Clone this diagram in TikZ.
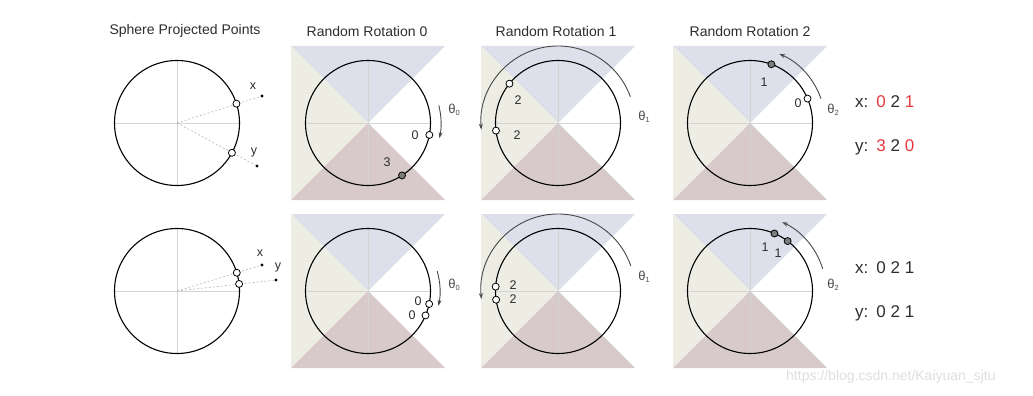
\documentclass[tikz,border=0pt]{standalone}
\usepackage{fontspec}
\setmainfont{Liberation Sans}
\usetikzlibrary{arrows.meta}
\definecolor{qtop}{RGB}{221,224,235}
\definecolor{qleft}{RGB}{237,237,228}
\definecolor{qbot}{RGB}{216,202,202}
\definecolor{txt}{RGB}{45,45,45}
\definecolor{hred}{RGB}{232,56,60}
\definecolor{ptgray}{RGB}{125,125,125}
\tikzset{
 ring/.style={draw=black, line width=1.1pt},
 cross/.style={draw=black!17, line width=0.6pt},
 hollowpt/.style={circle, draw=black, fill=white, line width=0.8pt, inner sep=0pt, minimum size=7pt},
 greypt/.style={circle, draw=black, fill=ptgray, line width=0.8pt, inner sep=0pt, minimum size=7pt},
 projdot/.style={circle, fill=black, inner sep=0pt, minimum size=3.2pt},
 projline/.style={draw=black!25, dash pattern=on 2pt off 2pt, line width=0.7pt},
 rotarrow/.style={draw=black!72, line width=0.9pt, -{Stealth[length=6pt,width=4pt]}},
 title/.style={font=\fontsize{14}{16}\selectfont, text=txt, inner sep=0pt},
 lbl/.style={font=\fontsize{12.5}{14}\selectfont, text=txt, inner sep=0pt},
 big/.style={font=\fontsize{17}{20}\selectfont, text=txt, inner sep=0pt, anchor=west},
 theta/.style={font=\fontsize{13}{15}\selectfont, text=txt!85, inner sep=0pt},
}
\newcommand{\qpanel}{%
 \fill[qtop] (-77,77) -- (77,77) -- (0,0) -- cycle;
 \fill[qleft] (-77,77) -- (-77,-77) -- (0,0) -- cycle;
 \fill[qbot] (-77,-77) -- (77,-77) -- (0,0) -- cycle;}
\newcommand{\qring}{%
 \draw[cross] (-62.5,0) -- (62.5,0);
 \draw[cross] (0,-62.5) -- (0,62.5);
 \draw[ring] (0,0) circle[radius=62.5];}
\newcommand{\thsub}[1]{θ\raisebox{-2.5pt}{\fontsize{7.5}{7.5}\selectfont #1}}
\begin{document}
\begin{tikzpicture}[x=1pt,y=1pt]
\useasboundingbox (0,0) rectangle (1033,-396);
% titles
\node[title] (t0) at (185,-31) {Sphere Projected Points};
\node[title] (t1) at (367,-31) {Random Rotation 0};
\node[title] (t2) at (556,-31) {Random Rotation 1};
\node[title] (t3) at (750,-31) {Random Rotation 2};

% ===== Row 1 =====
\begin{scope}[shift={(177,-123)}]
 \qring
 \node[projdot] (a1xd) at (85,27) {};
 \node[projdot] (a1yd) at (80,-43) {};
 \coordinate (a1c) at (0,0);
 \draw[projline] (a1c) -- (a1xd);
 \draw[projline] (a1c) -- (a1yd);
 \node[hollowpt] (a1x) at (18:62.5) {};
 \node[hollowpt] (a1y) at (-28.5:62.5) {};
 \node[lbl] (a1xl) at (76,37) {x};
 \node[lbl] (a1yl) at (77,-29) {y};
\end{scope}
\begin{scope}[shift={(368,-123)}]
 \qpanel \qring
 \node[hollowpt] (b1p) at (-11:62.5) {};
 \node[greypt] (b1q) at (-57:62.5) {};
 \node[lbl] (b1pl) at (47,-12) {0};
 \node[lbl] (b1ql) at (19,-39) {3};
 \draw[rotarrow] (14:73) arc[start angle=14, end angle=-12, radius=73];
 \node[theta] (b1th) at (86,13) {\thsub{0}};
\end{scope}
\begin{scope}[shift={(558,-123)}]
 \qpanel \qring
 \node[hollowpt] (c1p) at (141:62.5) {};
 \node[hollowpt] (c1q) at (187:62.5) {};
 \node[lbl] (c1pl) at (-40,23) {2};
 \node[lbl] (c1ql) at (-41,-12) {2};
 \draw[rotarrow] (20:77) arc[start angle=20, end angle=185, radius=77];
 \node[theta] (c1th) at (86,6) {\thsub{1}};
\end{scope}
\begin{scope}[shift={(750,-123)}]
 \qpanel \qring
 \node[hollowpt] (d1p) at (23:62.5) {};
 \node[greypt] (d1q) at (70:62.5) {};
 \node[lbl] (d1pl) at (48,20) {0};
 \node[lbl] (d1ql) at (14,41) {1};
 \draw[rotarrow] (19:75) arc[start angle=19, end angle=67, radius=75];
 \node[theta] (d1th) at (83,13) {\thsub{2}};
\end{scope}
\node[big] (r1x) at (855,-102) {x:\hspace{8pt}\textcolor{hred}{0} 2 \textcolor{hred}{1}};
\node[big] (r1y) at (855,-147) {y:\hspace{8pt}\textcolor{hred}{3} 2 \textcolor{hred}{0}};

% ===== Row 2 =====
\begin{scope}[shift={(177,-291)}]
 \qring
 \node[projdot] (a2xd) at (85,26) {};
 \node[projdot] (a2yd) at (99,11) {};
 \coordinate (a2c) at (0,0);
 \draw[projline] (a2c) -- (a2xd);
 \draw[projline] (a2c) -- (a2yd);
 \node[hollowpt] (a2x) at (17:62.5) {};
 \node[hollowpt] (a2y) at (6.5:62.5) {};
 \node[lbl] (a2xl) at (83,38) {x};
 \node[lbl] (a2yl) at (101,24) {y};
\end{scope}
\begin{scope}[shift={(368,-291)}]
 \qpanel \qring
 \node[hollowpt] (b2p) at (-12:62.5) {};
 \node[hollowpt] (b2q) at (-23:62.5) {};
 \node[lbl] (b2pl) at (50,-10) {0};
 \node[lbl] (b2ql) at (44,-24) {0};
 \draw[rotarrow] (16:72) arc[start angle=16, end angle=-12, radius=72];
 \node[theta] (b2th) at (86,6) {\thsub{0}};
\end{scope}
\begin{scope}[shift={(558,-291)}]
 \qpanel \qring
 \node[hollowpt] (c2p) at (176:62.5) {};
 \node[hollowpt] (c2q) at (188:62.5) {};
 \node[lbl] (c2pl) at (-45,6) {2};
 \node[lbl] (c2ql) at (-45,-8) {2};
 \draw[rotarrow] (19:77) arc[start angle=19, end angle=186, radius=77];
 \node[theta] (c2th) at (86,14) {\thsub{1}};
\end{scope}
\begin{scope}[shift={(750,-291)}]
 \qpanel \qring
 \node[greypt] (d2p) at (67:62.5) {};
 \node[greypt] (d2q) at (53:62.5) {};
 \node[lbl] (d2pl) at (15,44) {1};
 \node[lbl] (d2ql) at (28,38) {1};
 \draw[rotarrow] (17:76) arc[start angle=17, end angle=65, radius=76];
 \node[theta] (d2th) at (83,6) {\thsub{2}};
\end{scope}
\node[big] (r2x) at (855,-268) {x:\hspace{8pt}0 2 1};
\node[big] (r2y) at (855,-313) {y:\hspace{8pt}0 2 1};

% watermark
\node[font=\fontsize{14}{16}\selectfont, text=black!13, anchor=west, inner sep=0pt] (wm) at (786,-377) {https://blog.csdn.net/Kaiyuan\_sjtu};
\end{tikzpicture}
\end{document}
